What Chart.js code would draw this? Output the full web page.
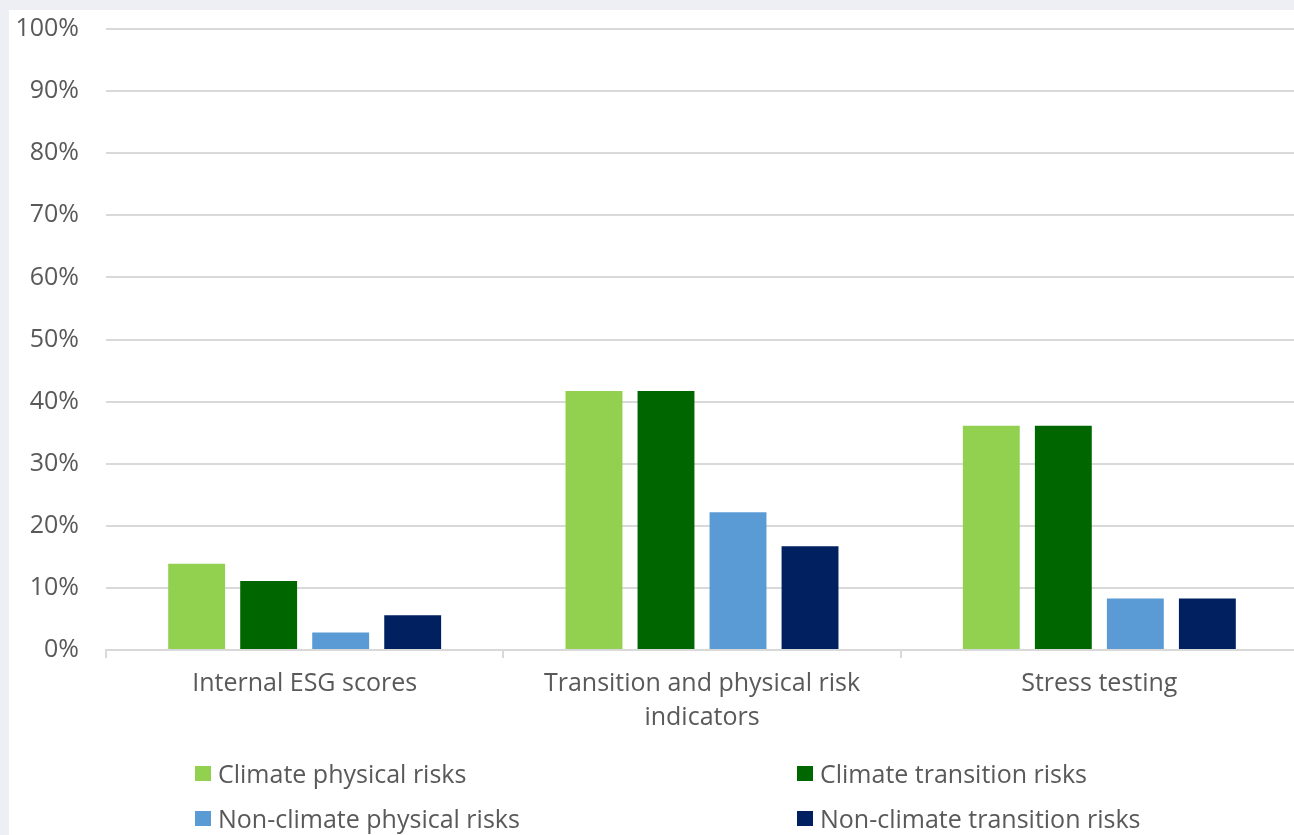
<!DOCTYPE html>
<html>
<head>
<meta charset="utf-8">
<script src="https://cdn.jsdelivr.net/npm/chart.js@4"></script>
<style>
  html, body { margin: 0; padding: 0; width: 1294px; height: 835px; overflow: hidden; background: #eeeff4; font-family: "Open Sans", sans-serif; }
  #panel { position: absolute; left: 9px; top: 10px; width: 1300px; height: 840px; background: #ffffff; }
  #wrap { position: absolute; left: 0; top: -13px; width: 1310px; height: 848px; }
  .leg { position: absolute; height: 34px; line-height: 34px; font-size: 25px; color: #595959; white-space: nowrap; }
  .leg .box { position: absolute; left: 0; top: 10px; width: 16px; height: 15px; }
  .leg .txt { position: absolute; left: 23px; top: 0; }
</style>
</head>
<body>
<div id="panel"></div>
<div id="wrap"><canvas id="c"></canvas></div>
<div id="legend"></div>
<script>
const categories = ["Internal ESG scores", ["Transition and physical risk", "indicators"], "Stress testing"];
const seriesNames = ["Climate physical risks", "Climate transition risks", "Non-climate physical risks", "Non-climate transition risks"];
const seriesColors = ["#92d050", "#006600", "#5b9bd5", "#002060"];
const climatePhysical = [13.9, 41.7, 36.1];
const climateTransition = [11.1, 41.7, 36.1];
const nonClimatePhysical = [2.8, 22.2, 8.3];
const nonClimateTransition = [5.6, 16.7, 8.3];
const yTicks = [0, 10, 20, 30, 40, 50, 60, 70, 80, 90, 100];

const seriesValues = [climatePhysical, climateTransition, nonClimatePhysical, nonClimateTransition];
const textColor = "#595959";
const gridColor = "#d9d9d9";

const ctx = document.getElementById("c");
new Chart(ctx, {
  type: "bar",
  data: {
    labels: categories,
    datasets: seriesNames.map((n, i) => ({
      label: n,
      data: seriesValues[i],
      backgroundColor: seriesColors[i],
      borderWidth: 0,
      categoryPercentage: 0.725,
      barPercentage: 0.79
    }))
  },
  options: {
    responsive: true,
    maintainAspectRatio: false,
    animation: false,
    layout: { padding: { top: 15, right: 12, left: 0, bottom: 0 } },
    plugins: { legend: { display: false }, tooltip: { enabled: false } },
    scales: {
      x: {
        offset: true,
        grid: { offset: true, drawOnChartArea: false, drawTicks: true, tickLength: 8, color: gridColor, lineWidth: 2 },
        border: { display: true, color: gridColor, width: 2 },
        ticks: { color: textColor, font: { family: "Open Sans", size: 25, lineHeight: 1.36 }, padding: 9, maxRotation: 0, autoSkip: false },
        afterFit: (s) => { s.height = 185; }
      },
      y: {
        min: 0, max: 100,
        afterBuildTicks: (s) => { s.ticks = yTicks.map(v => ({ value: v })); },
        grid: { drawTicks: false, color: gridColor, lineWidth: 2 },
        border: { display: false },
        ticks: { color: textColor, font: { family: "Open Sans", size: 25 }, padding: 27, callback: (v) => v + "%" },
        afterFit: (s) => { s.width = 106; }
      }
    }
  }
});

const legendPos = [[195, 756], [797, 756], [195, 801], [797, 801]];
const lg = document.getElementById("legend");
seriesNames.forEach((n, i) => {
  const d = document.createElement("div");
  d.className = "leg";
  d.style.left = legendPos[i][0] + "px";
  d.style.top = legendPos[i][1] + "px";
  const b = document.createElement("span"); b.className = "box"; b.style.background = seriesColors[i];
  const t = document.createElement("span"); t.className = "txt"; t.textContent = n;
  d.appendChild(b); d.appendChild(t);
  lg.appendChild(d);
});
</script>
</body>
</html>
